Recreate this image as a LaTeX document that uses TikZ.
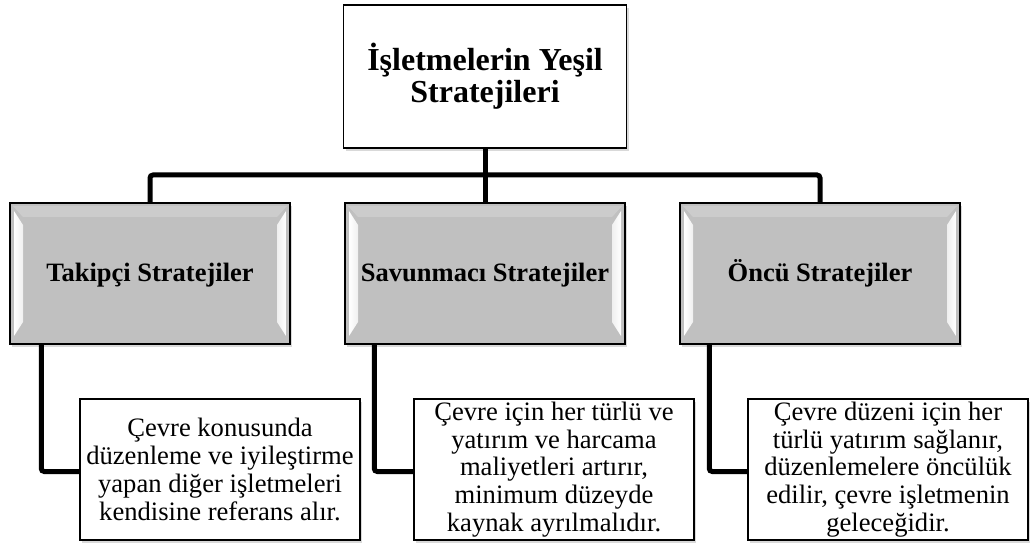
\documentclass[tikz,border=0pt]{standalone}
\usepackage{fontspec}
\setmainfont{Liberation Serif}
\usetikzlibrary{positioning,shadows}
\definecolor{boxgray}{RGB}{192,192,192}

\begin{document}
\begin{tikzpicture}[x=1pt, y=-1pt,
    root/.style={draw, line width=1.5pt, fill=white, minimum width=283pt, minimum height=143pt,
        align=center, font=\fontsize{32}{32}\selectfont\bfseries,
        drop shadow={shadow xshift=2pt, shadow yshift=-3pt, opacity=0.3}},
    strategy/.style={draw, line width=1.5pt, fill=boxgray, minimum width=280pt, minimum height=141pt,
        inner sep=1pt, text height=18pt, text depth=2pt, font=\fontsize{26.5}{28}\selectfont\bfseries,
        drop shadow={shadow xshift=2pt, shadow yshift=-3pt, opacity=0.3},
        path picture={
            \fill[white, opacity=0.2]
                ([xshift=3pt,yshift=-3pt]path picture bounding box.north west) --
                ([xshift=-3pt,yshift=-3pt]path picture bounding box.north east) --
                ([xshift=-13pt,yshift=-14pt]path picture bounding box.north east) --
                ([xshift=13pt,yshift=-14pt]path picture bounding box.north west) -- cycle;
            \fill[left color=white, right color=white!75!boxgray]
                ([xshift=4pt,yshift=-8pt]path picture bounding box.north west) --
                ([xshift=13pt,yshift=-22pt]path picture bounding box.north west) --
                ([xshift=13pt,yshift=22pt]path picture bounding box.south west) --
                ([xshift=4pt,yshift=8pt]path picture bounding box.south west) -- cycle;
            \fill[right color=white, left color=white!75!boxgray]
                ([xshift=-4pt,yshift=-8pt]path picture bounding box.north east) --
                ([xshift=-13pt,yshift=-22pt]path picture bounding box.north east) --
                ([xshift=-13pt,yshift=22pt]path picture bounding box.south east) --
                ([xshift=-4pt,yshift=8pt]path picture bounding box.south east) -- cycle;
        }},
    note/.style={draw, line width=1.5pt, fill=white, minimum width=280pt, minimum height=141pt,
        align=center, inner sep=2pt, font=\fontsize{26.6}{27.7}\selectfont,
        drop shadow={shadow xshift=2pt, shadow yshift=-3pt, opacity=0.3}},
    link/.style={line width=5pt, rounded corners=3pt}
]
\useasboundingbox (0,0) rectangle (1030,545);

% Root
\node[root] (root) at (485,76.5) {İşletmelerin Yeşil\\Stratejileri};

% Strategies
\node[strategy] (takip) at (150,273.5) {Takipçi Stratejiler};
\node[strategy] (savun) at (485,273.5) {Savunmacı Stratejiler};
\node[strategy] (oncu) at (820,273.5) {Öncü Stratejiler};

% Notes
\node[note] (takipNote) at (220,469.5) {Çevre konusunda\\düzenleme ve iyileştirme\\yapan diğer işletmeleri\\kendisine referans alır.};
\node[note] (savunNote) at (554,469.5) {Çevre için her türlü ve\\yatırım ve harcama\\maliyetleri artırır,\\minimum düzeyde\\kaynak ayrılmalıdır.};
\node[note] (oncuNote) at (888,469.5) {Çevre düzeni için her\\türlü yatırım sağlanır,\\düzenlemelere öncülük\\edilir, çevre işletmenin\\geleceğidir.};

% Links
\coordinate (bus) at (485,175);
\draw[link] (root.south) -- (savun.north);
\draw[link] (takip.north) |- (bus) -| (oncu.north);
\draw[link] ([xshift=32pt]takip.south west) |- ([yshift=-2pt]takipNote.west);
\draw[link] ([xshift=30pt]savun.south west) |- ([yshift=-2pt]savunNote.west);
\draw[link] ([xshift=30pt]oncu.south west) |- ([yshift=-2pt]oncuNote.west);

\end{tikzpicture}
\end{document}
